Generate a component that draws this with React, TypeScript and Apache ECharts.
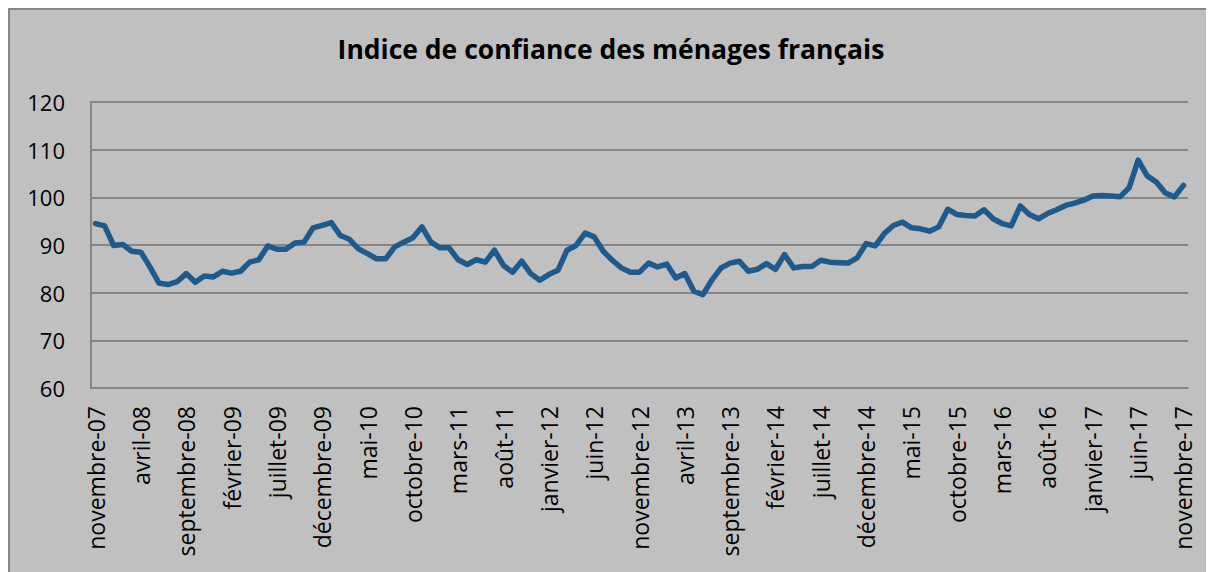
import React, { useEffect, useRef } from "react";
import * as echarts from "echarts";

const monthNames = ["janvier", "février", "mars", "avril", "mai", "juin", "juillet", "août", "septembre", "octobre", "novembre", "décembre"];

// novembre-07 .. novembre-17 (121 months)
const categories: string[] = [];
for (let k = 0; k < 121; k++) {
  const m = (10 + k) % 12;
  const y = 7 + Math.floor((10 + k) / 12);
  categories.push(`${monthNames[m]}-${String(y).padStart(2, "0")}`);
}

const confidence = [
  94.5, 94.0, 89.9, 90.1, 88.7, 88.5, 85.4, 82.0, 81.7, 82.3,
  84.0, 82.2, 83.5, 83.3, 84.5, 84.1, 84.5, 86.4, 86.9, 89.8,
  89.1, 89.1, 90.4, 90.6, 93.6, 94.1, 94.7, 92.0, 91.2, 89.2,
  88.2, 87.1, 87.1, 89.6, 90.6, 91.5, 93.8, 90.6, 89.4, 89.4,
  86.9, 85.9, 86.9, 86.4, 88.9, 85.7, 84.3, 86.6, 84.0, 82.6,
  83.8, 84.7, 88.9, 89.9, 92.5, 91.7, 88.7, 86.8, 85.2, 84.3,
  84.3, 86.2, 85.4, 86.0, 83.1, 84.0, 80.3, 79.6, 82.7, 85.2,
  86.2, 86.6, 84.5, 84.9, 86.1, 84.9, 88.0, 85.2, 85.5, 85.5,
  86.8, 86.4, 86.3, 86.2, 87.3, 90.3, 89.8, 92.4, 94.1, 94.8,
  93.6, 93.4, 92.9, 93.8, 97.5, 96.4, 96.2, 96.1, 97.4, 95.5,
  94.5, 94.0, 98.2, 96.4, 95.5, 96.6, 97.4, 98.3, 98.8, 99.4,
  100.3, 100.4, 100.3, 100.1, 102.0, 107.8, 104.5, 103.2, 100.9, 100.1,
  102.5,
];

const titleText = "Indice de confiance des ménages français";

export default function App() {
  const ref = useRef<HTMLDivElement>(null);
  useEffect(() => {
    if (!ref.current) return;
    const chart = echarts.init(ref.current, null, { renderer: "svg" });
    chart.setOption({
      animation: false,
      backgroundColor: "#c0c0c0",
      title: {
        text: titleText,
        left: "center",
        top: 22,
        textStyle: { fontFamily: "Open Sans", fontWeight: "bold", fontSize: 26.5, color: "#000" },
      },
      graphic: [
        { type: "line", shape: { x1: 1, y1: 0, x2: 1, y2: 564 }, style: { stroke: "#868686", lineWidth: 2 } },
        { type: "line", shape: { x1: 0, y1: 1, x2: 1206, y2: 1 }, style: { stroke: "#868686", lineWidth: 2 } },
      ],
      grid: { left: 83, top: 94, right: 26, bottom: 184, containLabel: false },
      xAxis: {
        type: "category",
        data: categories,
        boundaryGap: true,
        axisLine: { show: true, lineStyle: { color: "#868686", width: 2 } },
        axisTick: { show: false },
        axisLabel: {
          interval: 4,
          rotate: 90,
          margin: 18,
          fontFamily: "Open Sans",
          fontSize: 23,
          color: "#000",
        },
      },
      yAxis: {
        type: "value",
        min: 60,
        max: 120,
        interval: 10,
        axisLine: { show: true, lineStyle: { color: "#868686", width: 2 } },
        axisTick: { show: false },
        splitLine: { show: true, lineStyle: { color: "#868686", width: 2 } },
        axisLabel: { margin: 26, fontFamily: "Open Sans", fontSize: 22, color: "#000" },
      },
      series: [
        {
          type: "line",
          data: confidence,
          symbol: "none",
          lineStyle: { color: "#1f5a8c", width: 5.5, join: "round", cap: "round" },
        },
      ],
    });
    return () => chart.dispose();
  }, []);
  return <div ref={ref} style={{ width: 1206, height: 564 }} />;
}
